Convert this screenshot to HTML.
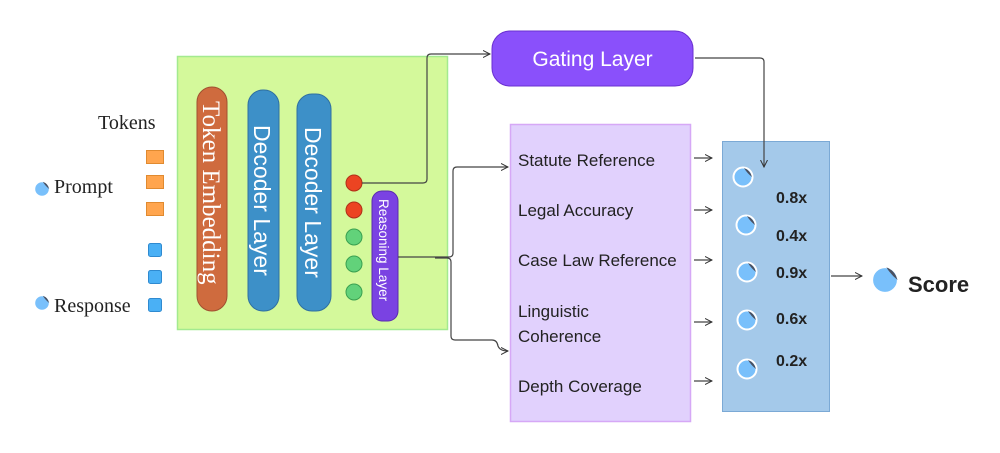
<!DOCTYPE html>
<html><head><meta charset="utf-8"><style>
html,body{margin:0;padding:0;background:#fff;}
svg{display:block}
.s{font-family:"Liberation Sans",sans-serif;}
.f{font-family:"Liberation Serif",serif;}
</style></head><body>
<svg width="1000" height="453" viewBox="0 0 1000 453" xmlns="http://www.w3.org/2000/svg">
<defs>
<marker id="a" markerWidth="8" markerHeight="8" refX="7" refY="4" orient="auto" markerUnits="userSpaceOnUse">
<path d="M0,0.5 L7,4 L0,7.5" fill="none" stroke="#333" stroke-width="1"/></marker>
<g id="st">
<circle cx="0" cy="0" r="9.5" fill="#79c0fb" stroke="#fff" stroke-width="2"/>
<path d="M1,-9 Q7,-7 9,0 Q4,-4 1,-9Z" fill="#4a5060"/>
</g>
</defs>
<rect x="177.5" y="56.5" width="270" height="273" fill="#d4f99b" stroke="#a3ea8f" stroke-width="1.5"/>
<rect x="197" y="87" width="30" height="224" rx="15" fill="#cf6b3e" stroke="#a05030"/>
<text class="f" transform="translate(203,101) rotate(90)" font-size="25" fill="#fff">Token Embedding</text>
<rect x="248" y="90" width="31" height="221" rx="15" fill="#3d90c8" stroke="#2f70a0"/>
<text class="s" transform="translate(254,125) rotate(90)" font-size="23" fill="#fff">Decoder Layer</text>
<rect x="297" y="94" width="34" height="217" rx="15" fill="#3d90c8" stroke="#2f70a0"/>
<text class="s" transform="translate(305,127) rotate(90)" font-size="23" fill="#fff">Decoder Layer</text>
<circle cx="354" cy="183" r="8" fill="#ec4422" stroke="#b03018"/>
<circle cx="354" cy="210" r="8" fill="#ec4422" stroke="#b03018"/>
<circle cx="354" cy="237" r="8" fill="#62d27a" stroke="#3aa050"/>
<circle cx="354" cy="264" r="8" fill="#62d27a" stroke="#3aa050"/>
<circle cx="354" cy="292" r="8" fill="#62d27a" stroke="#3aa050"/>
<rect x="372" y="191" width="26" height="130" rx="10" fill="#7a42e2" stroke="#5a2ab0"/>
<text class="s" transform="translate(379,199) rotate(90)" font-size="13.5" fill="#fff">Reasoning Layer</text>
<text class="f" x="98" y="129" font-size="20" fill="#222">Tokens</text>
<g fill="#ffa54e" stroke="#e08a30"><rect x="146.5" y="150.5" width="17" height="13"/><rect x="146.5" y="175.5" width="17" height="13"/><rect x="146.5" y="202.5" width="17" height="13"/></g>
<g fill="#4ab0f5" stroke="#2f8ad0"><rect x="148.5" y="243.5" width="13" height="13" rx="2"/><rect x="148.5" y="270.5" width="13" height="13" rx="2"/><rect x="148.5" y="298.5" width="13" height="13" rx="2"/></g>
<use href="#st" transform="translate(42,189) scale(0.8)"/>
<text class="f" x="54" y="193" font-size="20" fill="#222">Prompt</text>
<use href="#st" transform="translate(42,303) scale(0.8)"/>
<text class="f" x="54" y="312" font-size="20" fill="#222">Response</text>
<rect x="492" y="31" width="201" height="55" rx="18" fill="#8a50fb" stroke="#6a30d0"/>
<text class="s" x="592.5" y="66" font-size="21" fill="#fff" text-anchor="middle">Gating Layer</text>
<rect x="510.5" y="124.5" width="180" height="297" fill="#e1d1fd" stroke="#d6a8f6" stroke-width="1.5"/>
<g class="s" font-size="17" fill="#222">
<text x="518" y="166">Statute Reference</text>
<text x="518" y="216">Legal Accuracy</text>
<text x="518" y="266">Case Law Reference</text>
<text x="518" y="317">Linguistic</text>
<text x="518" y="342">Coherence</text>
<text x="518" y="392">Depth Coverage</text>
</g>
<rect x="722.5" y="141.5" width="107" height="270" fill="#a4c9ea" stroke="#7ba9d5"/>
<use href="#st" transform="translate(743,177)"/>
<use href="#st" transform="translate(746,225)"/>
<use href="#st" transform="translate(747,272)"/>
<use href="#st" transform="translate(747,320)"/>
<use href="#st" transform="translate(747,369)"/>
<g class="s" font-size="16" font-weight="bold" fill="#222">
<text x="776" y="203">0.8x</text><text x="776" y="241">0.4x</text><text x="776" y="278">0.9x</text><text x="776" y="324">0.6x</text><text x="776" y="366">0.2x</text>
</g>
<use href="#st" transform="translate(885,280) scale(1.4)"/>
<text class="s" x="908" y="292" font-size="22" font-weight="bold" fill="#222">Score</text>
<g fill="none" stroke="#444" stroke-width="1.2" marker-end="url(#a)">
<path d="M362,183 H423 Q427,183 427,179 V58 Q427,54 431,54 H490"/>
<path d="M695,58 H760 Q764,58 764,62 V167"/>
<path d="M398,257 H449 Q453,257 453,253 V171 Q453,167 457,167 H508"/>
<path d="M435,258 H447 Q451,258 451,262 V336 Q451,340 455,340 H492 Q497,340 498,346 Q500,351 508,351"/>
<path d="M694,158 H712"/><path d="M694,210 H712"/><path d="M694,260 H712"/><path d="M694,322 H712"/><path d="M694,381 H712"/>
<path d="M831,276 H862"/>
</g>
</svg>
</body></html>
